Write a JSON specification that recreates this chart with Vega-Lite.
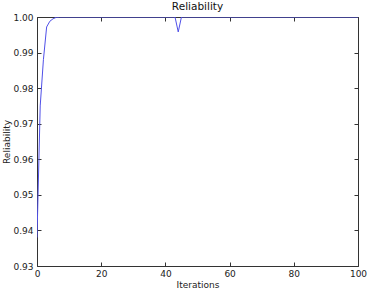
{
  "$schema": "https://vega.github.io/schema/vega-lite/v6.json",
  "autosize": "none",
  "width": 321,
  "height": 249,
  "padding": {"left": 37, "top": 17, "right": 10, "bottom": 30},
  "background": "white",
  "config": {
    "font": "DejaVu Sans",
    "view": {"stroke": "#333", "strokeWidth": 1},
    "axis": {"grid": false, "domain": false, "tickColor": "#333", "tickSize": -4, "labelColor": "#222", "labelFontSize": 9, "titleFontSize": 9, "titleFontWeight": "normal", "titleColor": "#222", "labelFont": "DejaVu Sans", "titleFont": "DejaVu Sans"}
  },
  "title": {"text": "Reliability", "fontSize": 10.5, "fontWeight": "normal", "font": "DejaVu Sans", "color": "#111", "offset": 1},
  "data": {"values": [
    {"it": 0, "r": 0.938},
    {"it": 1, "r": 0.975},
    {"it": 2, "r": 0.988},
    {"it": 3, "r": 0.9972},
    {"it": 4, "r": 0.9988},
    {"it": 5, "r": 0.9995},
    {"it": 6, "r": 0.9999},
    {"it": 7, "r": 1.0},
    {"it": 43, "r": 1.0},
    {"it": 44, "r": 0.9958},
    {"it": 45, "r": 1.0},
    {"it": 100, "r": 1.0}
  ]},
  "layer": [
    {
      "mark": {"type": "line", "color": "#5050e8", "strokeWidth": 1, "clip": true},
      "encoding": {
        "x": {"field": "it", "type": "quantitative", "scale": {"domain": [0, 100], "nice": false}, "axis": {"title": "Iterations", "values": [0, 20, 40, 60, 80, 100], "labelPadding": 7, "titleY": 18, "titleBaseline": "middle", "labelFlush": false}},
        "y": {"field": "r", "type": "quantitative", "scale": {"domain": [0.93, 1.0], "nice": false, "zero": false}, "axis": {"title": "Reliability", "values": [0.93, 0.94, 0.95, 0.96, 0.97, 0.98, 0.99, 1.0], "format": ".2f", "labelPadding": 8, "titleX": -31, "titleBaseline": "middle", "labelFlush": false}}
      }
    },
    {
      "mark": {"type": "line", "opacity": 0},
      "encoding": {
        "x": {"field": "it", "type": "quantitative", "axis": {"orient": "top", "labels": false, "title": null, "values": [0, 20, 40, 60, 80, 100]}},
        "y": {"field": "r", "type": "quantitative", "axis": {"orient": "right", "labels": false, "title": null, "values": [0.93, 0.94, 0.95, 0.96, 0.97, 0.98, 0.99, 1.0]}}
      }
    }
  ],
  "resolve": {"axis": {"x": "independent", "y": "independent"}}
}
